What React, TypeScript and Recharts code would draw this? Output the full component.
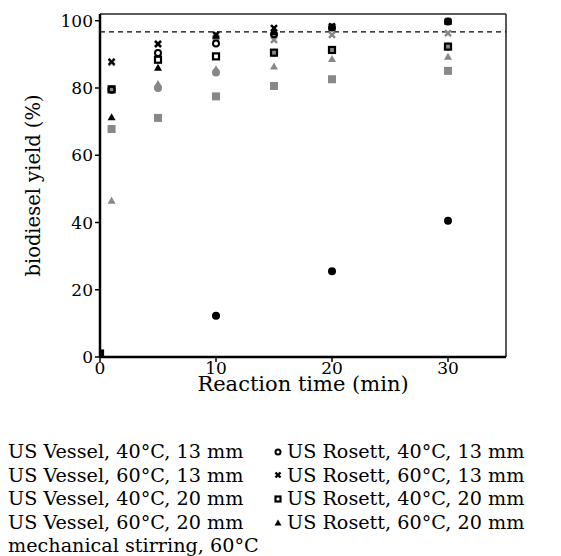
import { ScatterChart, Scatter, XAxis, YAxis, ReferenceLine, Label } from "recharts";

const FONT = "'DejaVu Serif', 'Liberation Serif', serif";
const GREY = "#888888";

const times = [0, 1, 5, 10, 15, 20, 30];
const xTicks = [0, 10, 20, 30];
const yTicks = [0, 20, 40, 60, 80, 100];

const vessel40_13 = [1, 79.6, 80, 84.6, 90.5, 91.3, 92.3];
const vessel60_13 = [1, 87.5, 93, 95, 94.3, 95.8, 96.3];
const vessel40_20 = [1, 67.8, 71.1, 77.5, 80.6, 82.6, 85.1];
const vessel60_20 = [1, 46.5, 81.2, 85.6, 86.4, 88.6, 89.3];
const mechTimes = [0, 10, 20, 30];
const mechStirring = [1, 12.3, 25.5, 40.5];
const rosett40_13 = [1, 79.5, 90.4, 93.2, 96, 98, 99.8];
const rosett60_13 = [1, 87.8, 93.1, 95.8, 97.8, 98.3, 99.8];
const rosett40_20 = [1, 79.6, 88.4, 89.4, 90.5, 91.3, 92.3];
const rosett60_20 = [1, 71.3, 86, 95.5, 96.5, 98, 99.7];
const targetYield = 96.7;

type Kind = "circle" | "ring" | "x" | "square" | "osquare" | "triangle";

const Marker = ({ cx, cy, kind, color, s = 8 }: { cx: number; cy: number; kind: Kind; color: string; s?: number }) => {
  const h = s / 2;
  if (kind === "circle") return <circle cx={cx} cy={cy} r={h} fill={color} />;
  if (kind === "ring") return <circle cx={cx} cy={cy} r={h - 1} fill="none" stroke={color} strokeWidth={2} />;
  if (kind === "square") return <rect x={cx - h} y={cy - h} width={s} height={s} fill={color} />;
  if (kind === "osquare")
    return <rect x={cx - h + 1} y={cy - h + 1} width={s - 2} height={s - 2} fill="none" stroke={color} strokeWidth={2.2} />;
  if (kind === "triangle")
    return <polygon points={`${cx},${cy - h} ${cx + h},${cy + h - 1} ${cx - h},${cy + h - 1}`} fill={color} />;
  const k = h - 1;
  return (
    <g stroke={color} strokeWidth={2.4}>
      <line x1={cx - k} y1={cy - k} x2={cx + k} y2={cy + k} />
      <line x1={cx - k} y1={cy + k} x2={cx + k} y2={cy - k} />
    </g>
  );
};

const toPoints = (xs: number[], ys: number[]) => xs.map((x, i) => ({ x, y: ys[i] }));

const series = [
  { name: "US Vessel, 40°C, 13 mm", xs: times, ys: vessel40_13, kind: "circle" as Kind, color: GREY },
  { name: "US Vessel, 60°C, 13 mm", xs: times, ys: vessel60_13, kind: "x" as Kind, color: GREY },
  { name: "US Vessel, 40°C, 20 mm", xs: times, ys: vessel40_20, kind: "square" as Kind, color: GREY },
  { name: "US Vessel, 60°C, 20 mm", xs: times, ys: vessel60_20, kind: "triangle" as Kind, color: GREY },
  { name: "mechanical stirring, 60°C", xs: mechTimes, ys: mechStirring, kind: "circle" as Kind, color: "#000" },
  { name: "US Rosett, 40°C, 13 mm", xs: times, ys: rosett40_13, kind: "ring" as Kind, color: "#000" },
  { name: "US Rosett, 60°C, 13 mm", xs: times, ys: rosett60_13, kind: "x" as Kind, color: "#000" },
  { name: "US Rosett, 40°C, 20 mm", xs: times, ys: rosett40_20, kind: "osquare" as Kind, color: "#000" },
  { name: "US Rosett, 60°C, 20 mm", xs: times, ys: rosett60_20, kind: "triangle" as Kind, color: "#000" },
];

const legendCols = [series.slice(0, 5), series.slice(5)];

export default function App() {
  return (
    <div style={{ position: "relative", width: 553, height: 548, fontFamily: FONT }}>
      <ScatterChart width={553} height={420} margin={{ top: 6, right: 55, bottom: 31, left: 0 }}>
        <XAxis
          type="number"
          dataKey="x"
          domain={[0, 35]}
          ticks={xTicks}
          allowDataOverflow
          height={40}
          tickSize={5}
          tickMargin={0}
          axisLine={{ stroke: "#000", strokeWidth: 2.5 }}
          tickLine={{ stroke: "#000", strokeWidth: 1.5 }}
          tick={{ fill: "#000", fontSize: 17, fontFamily: FONT }}
        >
          <Label value="Reaction time (min)" position="insideBottom" offset={6} fill="#000" fontSize={21} fontFamily={FONT} />
        </XAxis>
        <YAxis
          type="number"
          dataKey="y"
          domain={[0, 102]}
          ticks={yTicks}
          allowDataOverflow
          width={92}
          tickSize={5}
          axisLine={{ stroke: "#000", strokeWidth: 2.5 }}
          tickLine={{ stroke: "#000", strokeWidth: 1.5 }}
          tick={{ fill: "#000", fontSize: 17, fontFamily: FONT }}
        >
          <Label
            value="biodiesel yield (%)"
            angle={-90}
            position="insideLeft"
            offset={25}
            fill="#000"
            fontSize={19.5}
            fontFamily={FONT}
            style={{ textAnchor: "middle" }}
          />
        </YAxis>
        <ReferenceLine y={102} stroke="#222" strokeWidth={1.5} />
        <ReferenceLine x={35} stroke="#222" strokeWidth={1.5} />
        <ReferenceLine y={targetYield} stroke="#000" strokeWidth={1.3} strokeDasharray="5 4" />
        {series.map((s) => (
          <Scatter
            key={s.name}
            name={s.name}
            data={toPoints(s.xs, s.ys)}
            isAnimationActive={false}
            shape={(p: any) => <Marker cx={p.cx} cy={p.cy} kind={s.kind} color={s.color} />}
          />
        ))}
      </ScatterChart>
      <div style={{ position: "absolute", top: 432, left: -8, width: 561, fontSize: 19.2, lineHeight: "23.6px", color: "#000" }}>
        {legendCols.map((col, ci) => (
          <div key={ci} style={{ position: "absolute", left: ci === 0 ? -5 : 273, top: 0 }}>
            {col.map((s) => (
              <div key={s.name} style={{ display: "flex", alignItems: "center", whiteSpace: "nowrap" }}>
                <svg width={10} height={10} style={{ marginRight: ci === 0 ? 3 : 4, overflow: "visible" }}>
                  <Marker cx={5} cy={5} kind={s.kind} color={s.color} s={7} />
                </svg>
                <span>{s.name}</span>
              </div>
            ))}
          </div>
        ))}
      </div>
    </div>
  );
}
